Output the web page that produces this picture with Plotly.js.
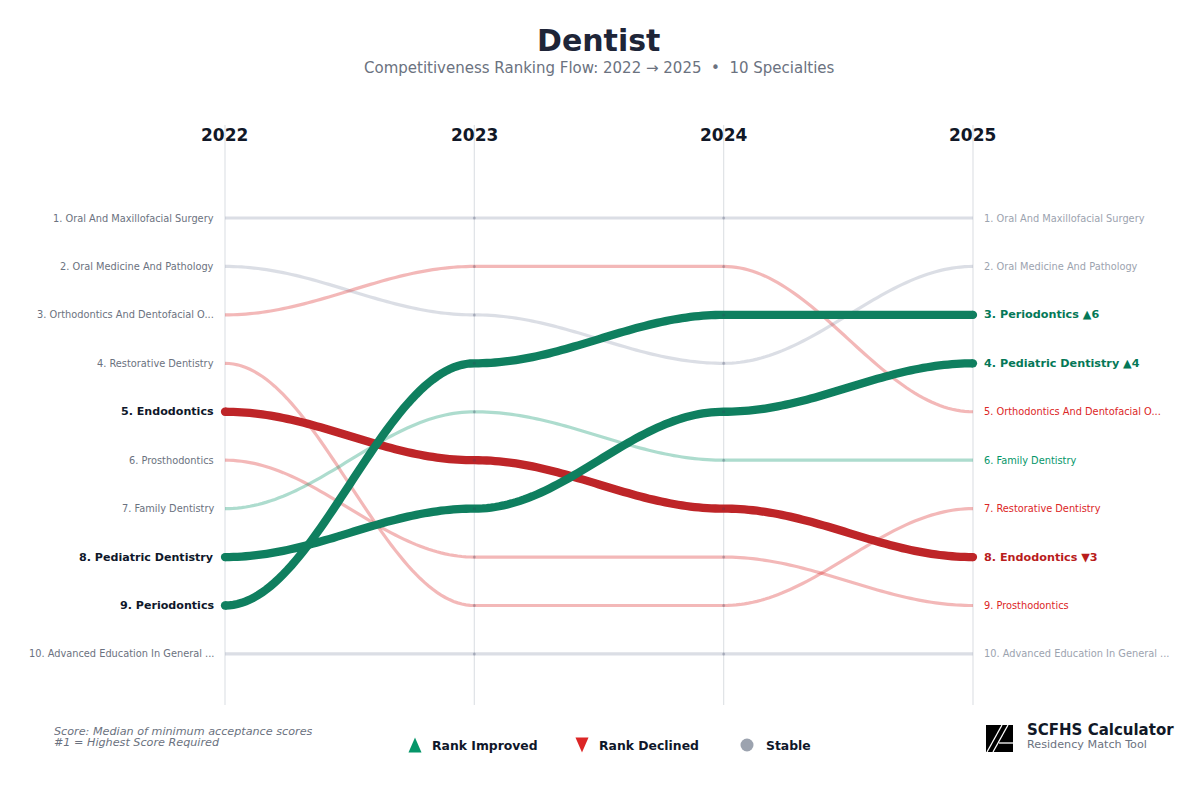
<!DOCTYPE html>
<html><head><meta charset="utf-8">
<script src="https://cdn.plot.ly/plotly-3.0.1.min.js"></script>
<style>html,body{margin:0;padding:0;background:#fff}#c{width:1200px;height:786px}</style></head>
<body><div id="c"></div>
<script>
const years = [2022, 2023, 2024, 2025];
const names = ["Oral And Maxillofacial Surgery","Oral Medicine And Pathology","Orthodontics And Dentofacial O...","Restorative Dentistry","Endodontics","Prosthodontics","Family Dentistry","Pediatric Dentistry","Periodontics","Advanced Education In General ..."];
const highlighted = ["Endodontics","Pediatric Dentistry","Periodontics"];
const r_surgery = [1,1,1,1];
const r_medicine = [2,3,4,2];
const r_ortho = [3,2,2,5];
const r_restor = [4,9,9,7];
const r_endo = [5,6,7,8];
const r_prosth = [6,8,8,9];
const r_family = [7,5,6,6];
const r_pedi = [8,7,5,4];
const r_perio = [9,4,3,3];
const r_adv = [10,10,10,10];
const ranks = [r_surgery,r_medicine,r_ortho,r_restor,r_endo,r_prosth,r_family,r_pedi,r_perio,r_adv];

const UP='#0f7f5f', DOWN='#be2528';
const THIN={up:'rgba(5,150,105,0.33)',down:'rgba(220,38,38,0.33)',flat:'rgba(156,163,184,0.36)'};
const px0=225, pxStep=249.33, py0=218, pyStep=48.44;
const W=1200,H=786;
const FONT='DejaVu Sans';

function curve(r){
  const xs=[],ys=[];
  for(let s=0;s<r.length-1;s++){
    for(let i=0;i<=60;i++){
      const t=i/60;
      xs.push(years[s]+t);
      ys.push(r[s]+(r[s+1]-r[s])*(1-Math.cos(Math.PI*t))/2);
    }
  }
  return [xs,ys];
}
const thin=[],thick=[],annotations=[];
names.forEach((n,i)=>{
  const d=ranks[i][0]-ranks[i][3];
  const big=highlighted.includes(n);
  const [xs,ys]=curve(ranks[i]);
  const col=big?(d>0?UP:DOWN):(d>0?THIN.up:d<0?THIN.down:THIN.flat);
  const w=big?8.3:3.2;
  (big?thick:thin).push({x:xs,y:ys,mode:'lines',line:{color:col,width:w,simplify:false},hoverinfo:'skip',showlegend:false});
  if(big) thick.push({x:[years[0],years[3]],y:[ranks[i][0],ranks[i][3]],mode:'markers',marker:{color:col,size:w,line:{width:0}},hoverinfo:'skip',showlegend:false});
  annotations.push({xref:'x',yref:'y',x:years[0],y:ranks[i][0],xanchor:'right',yanchor:'middle',xshift:-9,showarrow:false,
    text:big?`<b>${ranks[i][0]}. ${n}</b>`:`${ranks[i][0]}. ${n}`,
    font:{family:FONT,size:big?11.1:9.8,color:big?'#0f172a':'#6b7280'}});
  const arrow=big?(d>0?` ▲${d}`:` ▼${-d}`):'';
  const endCol=big?(d>0?'#047857':'#b91c1c'):(d>0?'#059669':d<0?'#dc2626':'#9ca3af');
  annotations.push({xref:'x',yref:'y',x:years[3],y:ranks[i][3],xanchor:'left',yanchor:'middle',xshift:9,showarrow:false,
    text:big?`<b>${ranks[i][3]}. ${n}${arrow}</b>`:`${ranks[i][3]}. ${n}`,
    font:{family:FONT,size:big?11.2:9.8,color:endCol}});
});
const dots=names.map((n,i)=>({x:years.slice(1,3),y:ranks[i].slice(1,3),mode:'markers',marker:{color:'rgba(55,60,90,0.24)',size:3,line:{width:0}},hoverinfo:'skip',showlegend:false}));
const traces=thin.concat(thick,dots);

const legendX=[415,582,747], legendY=745;
const legendLabelX=[430,597,764];
const legendCol=['#059669','#dc2626','#9ca3af'];
const legendTxt=['Rank Improved','Rank Declined','Stable'];
const shapes=years.map(y=>({type:'line',xref:'x',yref:'y2',x0:y,x1:y,y0:125,y1:705,line:{color:'rgba(209,213,219,0.7)',width:1.2},layer:'below'}));
const legendPaths=[
  x=>`M${x-6.5},${legendY+7.5} L${x},${legendY-7.5} L${x+6.5},${legendY+7.5} Z`,
  x=>`M${x-6.5},${legendY-7.5} L${x},${legendY+7.5} L${x+6.5},${legendY-7.5} Z`
];
legendX.forEach((x,i)=>{
  if(i<2) shapes.push({type:'path',xref:'x2',yref:'y2',path:legendPaths[i](x),fillcolor:legendCol[i],line:{width:0}});
  else traces.push({x:[x],y:[legendY],xaxis:'x2',yaxis:'y2',mode:'markers',marker:{symbol:'circle',size:13,color:legendCol[i]},hoverinfo:'skip',showlegend:false});
  annotations.push({xref:'x2',yref:'y2',x:legendLabelX[i],y:legendY,xanchor:'left',yanchor:'middle',showarrow:false,text:`<b>${legendTxt[i]}</b>`,font:{family:FONT,size:12.4,color:'#0f172a'}});
});
years.forEach((y,i)=>annotations.push({xref:'x',yref:'y2',x:y,y:135,xanchor:'center',xshift:i===0?-0.8:0,yanchor:'middle',showarrow:false,text:`<b>${y}</b>`,font:{family:FONT,size:17,color:'#111827'}}));
const tx=(x,y,t,s,c,a='left',h)=>annotations.push(Object.assign({xref:'x2',yref:'y2',x,y,xanchor:a,yanchor:'middle',showarrow:false,text:t,font:{family:FONT,size:s,color:c}},h?{height:h}:{}));
tx(598,40,'<b>Dentist</b>',30,'#1e2538','center');
tx(599,68,'Competitiveness Ranking Flow: 2022 → 2025  •  10 Specialties',15,'#6b7280','center');
tx(52,731.5,'<i>Score: Median of minimum acceptance scores</i>',11.2,'#6b7280','left',11.5);
tx(52,743,'<i>#1 = Highest Score Required</i>',11.2,'#6b7280','left',11.5);
tx(1025,730,'<b>SCFHS Calculator</b>',15,'#111827');
tx(1025,744.5,'Residency Match Tool',11.2,'#6b7280');

shapes.push({type:'rect',xref:'x2',yref:'y2',x0:986,x1:1013,y0:725,y1:752,fillcolor:'#000',line:{width:0}});
shapes.push({type:'line',xref:'x2',yref:'y2',x0:987,y0:752,x1:1002,y1:725,line:{color:'#fff',width:1.3}});
shapes.push({type:'line',xref:'x2',yref:'y2',x0:993,y0:752,x1:1008,y1:725,line:{color:'#fff',width:1.3}});
shapes.push({type:'line',xref:'x2',yref:'y2',x0:999,y0:743,x1:1013,y1:743,line:{color:'#fff',width:1.3}});

const layout={width:W,height:H,margin:{l:0,r:0,t:0,b:0},paper_bgcolor:'#fff',plot_bgcolor:'#fff',showlegend:false,
  xaxis:{range:[years[0]-px0/pxStep,years[0]+(W-px0)/pxStep],visible:false,fixedrange:true},
  yaxis:{range:[1+(H-py0)/pyStep,1-py0/pyStep],visible:false,fixedrange:true},
  xaxis2:{range:[0,W],visible:false,overlaying:'x',fixedrange:true},
  yaxis2:{range:[H,0],visible:false,overlaying:'y',fixedrange:true},
  shapes,annotations};
Plotly.newPlot('c',traces,layout,{displayModeBar:false,staticPlot:true});
</script></body></html>
